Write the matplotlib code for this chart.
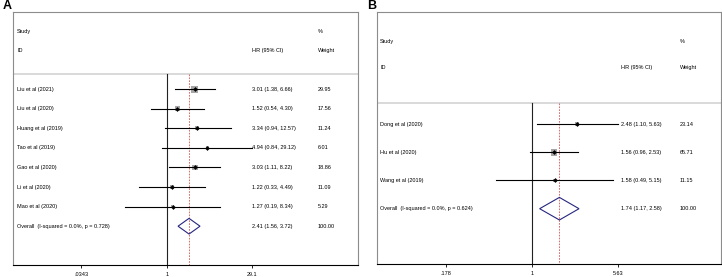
import numpy as np
import matplotlib
matplotlib.use("Agg")
import matplotlib.pyplot as plt
from matplotlib.patches import Polygon
import matplotlib.transforms as mtransforms

plt.rcParams['font.family'] = ['Liberation Sans', 'DejaVu Sans']

# Panel A data
a_studies = ["Liu et al (2021)", "Liu et al (2020)", "Huang et al (2019)", "Tao et al (2019)",
             "Gao et al (2020)", "Li et al (2020)", "Mao et al (2020)"]
a_hr = [3.01, 1.52, 3.34, 4.94, 3.03, 1.22, 1.27]
a_lo = [1.38, 0.54, 0.94, 0.84, 1.11, 0.33, 0.19]
a_hi = [6.66, 4.30, 12.57, 29.12, 8.22, 4.49, 8.34]
a_w = [29.95, 17.56, 11.24, 6.01, 18.86, 11.09, 5.29]
a_overall = (2.41, 1.56, 3.72, 100.00)
a_overall_label = "Overall  (I-squared = 0.0%, p = 0.728)"
a_ticks = [0.0343, 1, 29.1]
a_ticklabels = [".0343", "1", "29.1"]

# Panel B data
b_studies = ["Dong et al (2020)", "Hu et al (2020)", "Wang et al (2019)"]
b_hr = [2.48, 1.56, 1.58]
b_lo = [1.10, 0.96, 0.49]
b_hi = [5.63, 2.53, 5.15]
b_w = [23.14, 65.71, 11.15]
b_overall = (1.74, 1.17, 2.58, 100.00)
b_overall_label = "Overall  (I-squared = 0.0%, p = 0.624)"
b_ticks = [0.178, 1, 5.63]
b_ticklabels = [".178", "1", "5.63"]

W, H = 722, 277
fig = plt.figure(figsize=(W / 100, H / 100), dpi=100)

FS = 4.0
FRAME = "#8c8c8c"


def panel(rect, label, studies, hr, lo, hi, w, overall, overall_label, ticks, ticklabels,
          xlim, ylim, ysep, yid, ystudy, xfr, boxmax):
    ax = fig.add_axes(rect)
    ax.set_xlim(*xlim)
    ax.set_ylim(*ylim)
    for s in ["top", "left", "right"]:
        ax.spines[s].set_color(FRAME)
        ax.spines[s].set_linewidth(0.8)
    ax.spines["bottom"].set_color("black")
    ax.spines["bottom"].set_linewidth(0.8)
    ax.set_yticks([])
    ax.set_xticks(np.log(ticks))
    ax.set_xticklabels(ticklabels, fontsize=FS)
    ax.tick_params(axis="x", length=2.5, width=0.6, pad=2.5)

    n = len(studies)
    ypos = np.arange(n)
    yo = n
    bottom = ylim[0]
    trans = mtransforms.blended_transform_factory(ax.transAxes, ax.transData)

    # separator
    ax.plot([0, 1], [ysep, ysep], transform=trans, color="#d9d9d9", lw=1.4, zorder=1)
    # null line
    ax.plot([0, 0], [ysep, bottom], color="#222222", lw=0.8, zorder=2)
    # overall dashed
    ax.plot([np.log(overall[0])] * 2, [ysep, bottom], color="#d9534f", lw=0.6,
            ls=(0, (2, 1.5)), zorder=2)

    # boxes
    wmax = max(w)
    sides = [boxmax * np.sqrt(wi / wmax) * 0.72 for wi in w]
    ax.scatter(np.log(hr), ypos, s=[sd ** 2 for sd in sides], marker="s",
               color="#a6a6a6", edgecolor="none", zorder=3)
    for i in range(n):
        ax.plot([np.log(lo[i]), np.log(hi[i])], [ypos[i], ypos[i]], color="black", lw=0.8, zorder=4)
    ax.scatter(np.log(hr), ypos, s=6, marker="D", color="black", zorder=5, linewidths=0)

    # diamond
    o, ol, oh, ow = overall
    hh = 0.4
    dia = Polygon([[np.log(ol), yo], [np.log(o), yo - hh], [np.log(oh), yo], [np.log(o), yo + hh]],
                  closed=True, fill=False, edgecolor="#262680", lw=0.8, zorder=4)
    ax.add_patch(dia)

    # text
    ax.text(xfr[0], ystudy, "Study", transform=trans, fontsize=FS, va="center")
    ax.text(xfr[0], yid, "ID", transform=trans, fontsize=FS, va="center")
    ax.text(xfr[1], yid, "HR (95% CI)", transform=trans, fontsize=FS, va="center")
    ax.text(xfr[2], ystudy, "%", transform=trans, fontsize=FS, va="center")
    ax.text(xfr[2], yid, "Weight", transform=trans, fontsize=FS, va="center")
    for i in range(n):
        ax.text(xfr[0], ypos[i], studies[i], transform=trans, fontsize=FS, va="center")
        ax.text(xfr[1], ypos[i], f"{hr[i]:.2f} ({lo[i]:.2f}, {hi[i]:.2f})", transform=trans,
                fontsize=FS, va="center")
        ax.text(xfr[2], ypos[i], f"{w[i]:.2f}", transform=trans, fontsize=FS, va="center")
    ax.text(xfr[0], yo, overall_label, transform=trans, fontsize=FS, va="center")
    ax.text(xfr[1], yo, f"{o:.2f} ({ol:.2f}, {oh:.2f})", transform=trans, fontsize=FS, va="center")
    ax.text(xfr[2], yo, f"{ow:.2f}", transform=trans, fontsize=FS, va="center")

    fig.text(rect[0] - 10 / W, 1 - 6 / H, label, fontsize=9, fontweight="bold",
             va="center", ha="left", family="Liberation Sans")
    return ax


def rect_px(l, r, t, b):
    return [l / W, 1 - b / H, (r - l) / W, (b - t) / H]


panel(rect_px(13, 358, 12, 265), "A", a_studies, a_hr, a_lo, a_hi, a_w, a_overall,
      a_overall_label, a_ticks, a_ticklabels,
      xlim=(-6.08, 7.56), ylim=(8.98, -3.93), ysep=-0.77, yid=-1.94, ystudy=-2.96,
      xfr=(0.012, 0.693, 0.884), boxmax=7.0)

panel(rect_px(377, 721, 12, 264), "B", b_studies, b_hr, b_lo, b_hi, b_w, b_overall,
      b_overall_label, b_ticks, b_ticklabels,
      xlim=(-3.11, 3.80), ylim=(4.96, -3.97), ysep=-0.745, yid=-1.99, ystudy=-2.91,
      xfr=(0.009, 0.709, 0.881), boxmax=6.6)

fig.savefig("out.png", dpi=100)
